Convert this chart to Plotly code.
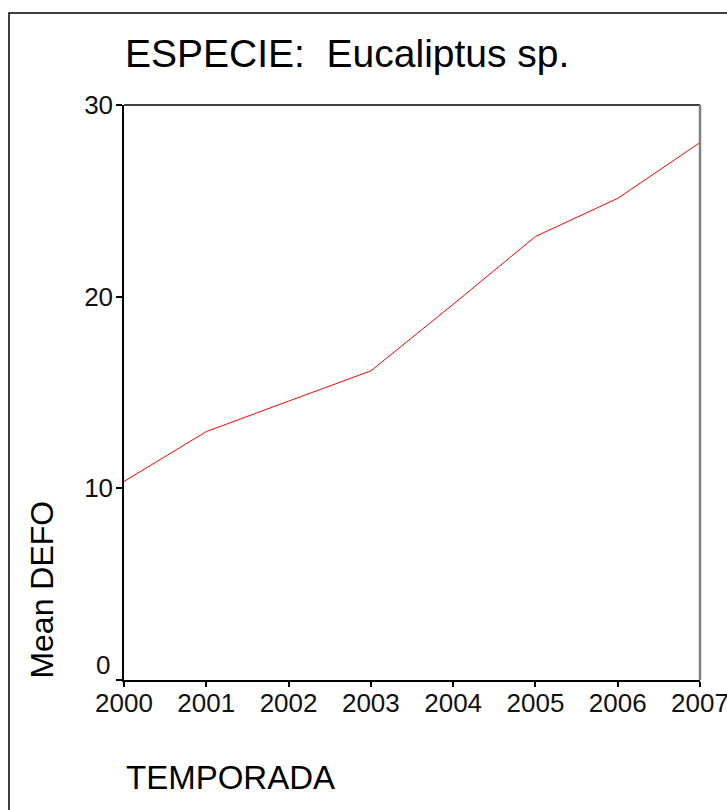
import plotly.graph_objects as go

years = [2000, 2001, 2002, 2003, 2004, 2005, 2006, 2007]
mean_defo = [10.36, 12.96, 14.55, 16.13, 19.6, 23.14, 25.13, 28.04]
y_ticks = [0, 10, 20, 30]
title_text = "ESPECIE:  Eucaliptus sp."
x_title = "TEMPORADA"
y_title = "Mean DEFO"

FONT = "Arial, 'Liberation Sans', sans-serif"

W, H = 727, 810
L, R, T, B = 124, 27, 104.5, 130
pw, ph = W - L - R, H - T - B

fig = go.Figure()
fig.add_trace(go.Scatter(
    x=years, y=mean_defo, mode="lines",
    line=dict(color="#ff0000", width=1), showlegend=False, hoverinfo="x+y",
))

# The lowest y label sits slightly above its tick (as in the reference);
# the others are drawn by the axis itself.
y_ticktext = [""] + [str(v) for v in y_ticks[1:]]

fig.update_layout(
    width=W, height=H, autosize=False,
    margin=dict(l=L, r=R, t=T, b=B, pad=0, autoexpand=False),
    paper_bgcolor="white", plot_bgcolor="white",
    font=dict(family=FONT, color="black"),
    xaxis=dict(
        range=[2000, 2007], tickmode="array", tickvals=years,
        ticktext=[str(y) for y in years], automargin=False,
        showline=True, linecolor="black", linewidth=1.5,
        ticks="outside", ticklen=5, tickwidth=1.5, tickcolor="black",
        showgrid=False, zeroline=False,
        tickfont=dict(family=FONT, size=26, color="#111111"),
        ticklabelstandoff=-6, ticklabeloverflow="allow",
    ),
    yaxis=dict(
        range=[0, 30], tickmode="array", tickvals=y_ticks, ticktext=y_ticktext,
        automargin=False,
        showline=True, linecolor="black", linewidth=1.5,
        ticks="outside", ticklen=6, tickwidth=1.5, tickcolor="black",
        showgrid=False, zeroline=False,
        tickfont=dict(family=FONT, size=26, color="#111111"),
        ticklabelstandoff=-2, ticklabeloverflow="allow",
    ),
    shapes=[
        dict(type="line", xref="paper", yref="paper", x0=0, x1=1, y0=1, y1=1,
             line=dict(color="black", width=1.5)),
        dict(type="line", xref="paper", yref="paper", x0=1, x1=1, y0=0, y1=1,
             line=dict(color="#808080", width=2.5)),
        dict(type="rect", xref="paper", yref="paper",
             x0=(9 - L) / pw, x1=(W + 20 - L) / pw,
             y0=(H - B - (H + 20)) / ph, y1=(H - B - 12.5) / ph,
             line=dict(color="black", width=1.5), fillcolor="rgba(0,0,0,0)"),
    ],
    annotations=[
        dict(text=str(y_ticks[0]), xref="paper", yref="y",
             x=0, y=y_ticks[0], xshift=-12, yshift=15,
             xanchor="right", yanchor="middle", showarrow=False,
             font=dict(family=FONT, size=26, color="#111111")),
        dict(text=title_text, xref="paper", yref="paper",
             x=(123 - L) / pw, y=1 + 52 / ph, xanchor="left", yanchor="middle",
             showarrow=False, font=dict(family=FONT, size=39, color="black")),
        dict(text=x_title, xref="paper", yref="paper",
             x=(124 - L) / pw, y=-(778 - 680) / ph, xanchor="left", yanchor="middle",
             showarrow=False, font=dict(family=FONT, size=33, color="black")),
        dict(text=y_title, xref="paper", yref="paper", textangle=-90,
             x=(42 - L) / pw, y=(680 - 589.5) / ph, xanchor="center", yanchor="middle",
             showarrow=False, font=dict(family=FONT, size=32, color="black")),
    ],
)

fig.write_html(
    "out.html",
    config={"displayModeBar": False},
    post_script="document.body.style.margin='0';document.body.style.overflow='hidden';",
)
